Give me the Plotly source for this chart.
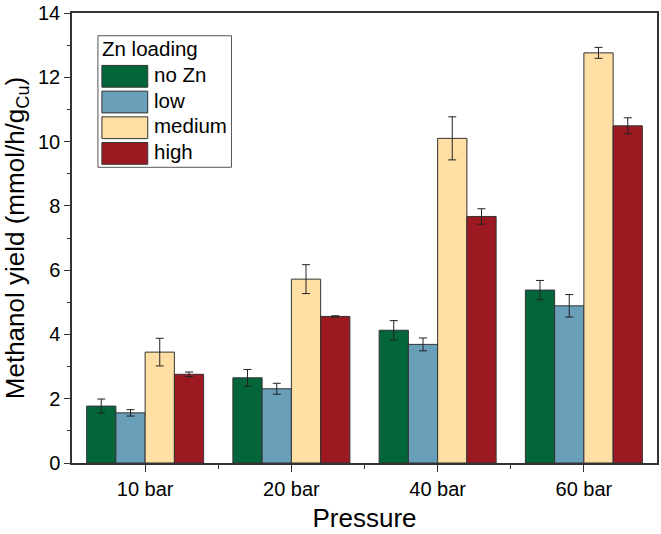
import plotly.graph_objects as go

pressures = ["10 bar", "20 bar", "40 bar", "60 bar"]
series_names = ["no Zn", "low", "medium", "high"]
no_zn = [1.77, 2.65, 4.13, 5.38]
no_zn_err = [0.22, 0.26, 0.30, 0.30]
low = [1.56, 2.31, 3.69, 4.89]
low_err = [0.10, 0.17, 0.20, 0.35]
medium = [3.45, 5.72, 10.10, 12.76]
medium_err = [0.43, 0.45, 0.67, 0.17]
high = [2.76, 4.56, 7.67, 10.49]
high_err = [0.07, 0.02, 0.24, 0.25]
colors = ["#03663A", "#6A9FBA", "#FFDFA3", "#9D1922"]
y_ticks = [0, 2, 4, 6, 8, 10, 12, 14]

values = [no_zn, low, medium, high]
errors = [no_zn_err, low_err, medium_err, high_err]
xpos = list(range(len(pressures)))

FONT = "Liberation Sans, Arial, sans-serif"

fig = go.Figure()
for name, vals, errs, col in zip(series_names, values, errors, colors):
    fig.add_trace(go.Bar(
        x=xpos, y=vals, name=name,
        marker=dict(color=col, line=dict(color="#333333", width=1)),
        error_y=dict(type="data", array=errs, visible=True,
                     color="#222222", thickness=1, width=4),
        showlegend=False,
    ))

# legend drawn as shapes/annotations to mimic large swatches
W, H = 661, 534
ml, mr, mt, mb = 72, 2, 8, 71
pw, ph = W - ml - mr, H - mt - mb

def px_x(x):
    return (x - ml) / pw

def px_y(y):
    return 1 - (y - mt) / ph

shapes = []
annotations = []
shapes.append(dict(type="rect", xref="paper", yref="paper",
                   x0=px_x(98), x1=px_x(232), y0=px_y(164), y1=px_y(31),
                   line=dict(color="#555555", width=1), fillcolor="white"))
annotations.append(dict(xref="paper", yref="paper", x=px_x(100), y=px_y(44),
                        text="Zn loading", showarrow=False, xanchor="left",
                        yanchor="middle", font=dict(size=20.5, color="black", family=FONT)))
row_tops = [61, 87, 113, 139]
for name, col, top in zip(series_names, colors, row_tops):
    shapes.append(dict(type="rect", xref="paper", yref="paper",
                       x0=px_x(102), x1=px_x(148), y0=px_y(top + 22), y1=px_y(top),
                       line=dict(color="#333333", width=1), fillcolor=col))
    annotations.append(dict(xref="paper", yref="paper", x=px_x(152), y=px_y(top + 9),
                            text=name, showarrow=False, xanchor="left",
                            yanchor="middle", font=dict(size=20.5, color="black", family=FONT)))

fig.update_layout(
    width=W, height=H,
    margin=dict(l=ml, r=mr, t=mt, b=mb),
    barmode="group", bargap=0.2, bargroupgap=0,
    plot_bgcolor="white", paper_bgcolor="white",
    font=dict(family=FONT, color="black", size=20),
    shapes=shapes, annotations=annotations,
    xaxis=dict(
        range=[-0.5, 3.5], tickmode="array", tickvals=xpos, ticktext=pressures,
        showgrid=False, zeroline=False,
        showline=True, linecolor="#333333", linewidth=1.5, mirror=True,
        ticks="outside", ticklen=7, tickwidth=1.2, tickcolor="#333333",
        minor=dict(tickmode="array", tickvals=[0.5, 1.5, 2.5], ticks="outside",
                   ticklen=4, tickwidth=1.2, tickcolor="#333333"),
        tickfont=dict(size=20),
        title=dict(text="Pressure", font=dict(size=26), standoff=10),
    ),
    yaxis=dict(
        range=[0, 14], tickmode="array", tickvals=y_ticks,
        ticktext=[str(v) for v in y_ticks], ticklabeloverflow="allow",
        showgrid=False, zeroline=False,
        showline=True, linecolor="#333333", linewidth=1.5, mirror=True,
        ticks="outside", ticklen=6, tickwidth=1.2, tickcolor="#333333",
        minor=dict(tickmode="array", tickvals=[1, 3, 5, 7, 9, 11, 13], ticks="outside",
                   ticklen=3, tickwidth=1.2, tickcolor="#333333", showgrid=False),
        tickfont=dict(size=20),
        title=dict(text="Methanol yield (mmol/h/g<sub>Cu</sub>)", font=dict(size=26), standoff=6),
    ),
)

fig.write_html("out.html")
